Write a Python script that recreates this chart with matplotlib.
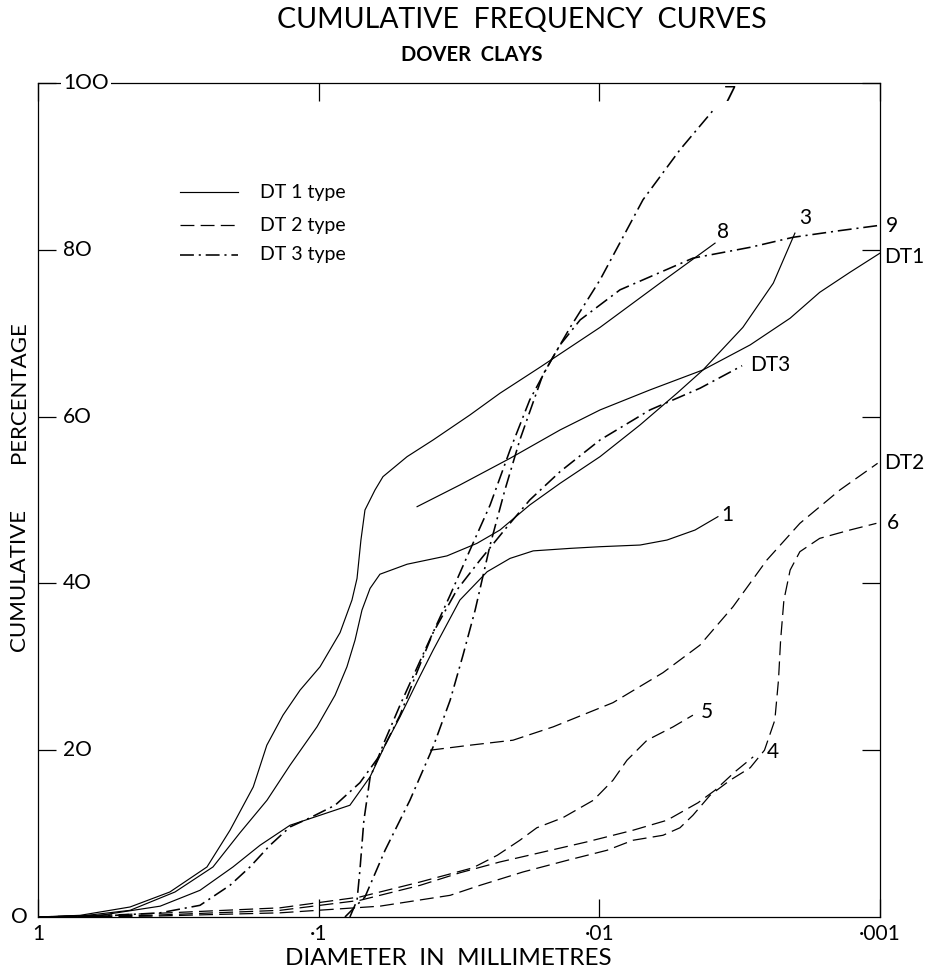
import matplotlib
matplotlib.use("Agg")
import matplotlib.pyplot as plt
import matplotlib.transforms as mtransforms
from matplotlib.ticker import NullLocator

plt.rcParams['font.family'] = ['Lato', 'DejaVu Sans']
plt.rcParams['lines.scale_dashes'] = False

# ---------------- data (diameter in mm, cumulative %) ----------------
x_tick_values = [1, 0.1, 0.01, 0.001]
x_tick_labels = ['1', '\u00b71', '\u00b701', '\u00b7001']
y_tick_values = [20, 40, 60, 80, 100]
y_tick_labels = ['2O', '4O', '6O', '8O', '1OO']

curve8_d = [1, 0.708, 0.470, 0.339, 0.250, 0.207, 0.171, 0.153, 0.134, 0.1165, 0.0989, 0.0839,
            0.0761, 0.0730, 0.0707, 0.0684, 0.0630, 0.0590, 0.0484, 0.0391, 0.0289, 0.0226,
            0.0163, 0.00994, 0.00608, 0.00387]
curve8_p = [0, 0.2, 1.2, 3.0, 6.0, 10.4, 15.6, 20.6, 24.2, 27.2, 30.0, 34.1, 38.0, 40.6, 45.2,
            48.8, 51.2, 52.8, 55.2, 57.2, 60.2, 62.8, 65.9, 70.7, 76.0, 80.8]

curve3_d = [1, 0.708, 0.470, 0.325, 0.238, 0.1907, 0.1528, 0.1265, 0.1014, 0.0874, 0.0793, 0.0742,
            0.0701, 0.0656, 0.0605, 0.0484, 0.0349, 0.0273, 0.0226, 0.0177, 0.0138, 0.00994,
            0.00716, 0.00529, 0.00427, 0.00308, 0.00240, 0.00201]
curve3_p = [0, 0.1, 0.8, 3.0, 6.0, 10.1, 14.0, 18.2, 22.8, 26.6, 30.0, 33.2, 36.8, 39.4, 41.1,
            42.3, 43.3, 44.8, 46.4, 49.4, 52.0, 55.2, 59.0, 62.8, 65.6, 70.7, 76.0, 82.0]

curve1_d = [1, 0.601, 0.367, 0.2648, 0.202, 0.1618, 0.1265, 0.0989, 0.0774, 0.0656, 0.0580, 0.0513,
            0.0446, 0.0391, 0.0314, 0.0251, 0.0208, 0.0172, 0.0127, 0.00994, 0.00716, 0.00574,
            0.00456, 0.00378]
curve1_p = [0, 0.2, 1.3, 3.2, 6.0, 8.6, 11.0, 12.2, 13.4, 16.8, 20.6, 24.0, 28.2, 32.0, 38.0,
            41.4, 43.0, 43.9, 44.2, 44.4, 44.6, 45.2, 46.4, 48.0]

dt1_d = [0.0446, 0.0314, 0.0208, 0.0138, 0.00994, 0.00660, 0.00427, 0.00290, 0.00209, 0.00164,
         0.00128, 0.001]
dt1_p = [49.2, 51.8, 55.0, 58.4, 60.8, 63.2, 65.6, 68.6, 71.8, 74.9, 77.3, 79.6]

dt3_d = [1, 0.601, 0.367, 0.2648, 0.207, 0.1757, 0.1491, 0.1265, 0.1073, 0.0874, 0.0713, 0.0605,
         0.0513, 0.0446, 0.0391, 0.0322, 0.0266, 0.0213, 0.0177, 0.0138, 0.00994, 0.00660,
         0.00438, 0.00310]
dt3_p = [0, 0.1, 0.5, 1.4, 3.8, 6.0, 8.6, 10.8, 11.9, 13.4, 16.1, 19.4, 24.2, 29.4, 34.1, 39.2,
         42.8, 46.8, 50.0, 53.4, 57.2, 60.8, 63.4, 66.1]

curve9_d = [0.0806, 0.0684, 0.0580, 0.0473, 0.0391, 0.0340, 0.0306, 0.0277, 0.0245, 0.0217,
            0.0192, 0.0159, 0.0138, 0.0117, 0.00844, 0.00464, 0.00290, 0.00204, 0.00139, 0.00102]
curve9_p = [0, 2.4, 8.0, 14.0, 20.4, 26.0, 31.4, 36.8, 44.6, 51.2, 57.2, 65.0, 68.6, 71.6, 75.2,
            79.0, 80.3, 81.5, 82.3, 82.9]

curve7_d = [0.0774, 0.0730, 0.0713, 0.0690, 0.0656, 0.0580, 0.0513, 0.0418, 0.0340, 0.0289,
            0.0245, 0.0208, 0.0177, 0.0150, 0.0127, 0.00994, 0.00699, 0.00516, 0.00387]
curve7_p = [0, 2.0, 5.6, 11.6, 16.7, 21.2, 25.4, 32.0, 38.6, 44.0, 49.4, 56.0, 62.0, 66.5, 70.7,
            76.4, 86.0, 92.0, 97.0]

dt2_d = [0.0401, 0.0289, 0.0203, 0.0146, 0.00894, 0.00593, 0.00438, 0.00334, 0.00253, 0.00193,
         0.00139, 0.00102]
dt2_p = [20.0, 20.6, 21.2, 22.8, 25.7, 29.3, 32.6, 37.2, 42.8, 47.2, 51.2, 54.4]

curve6_d = [1, 0.399, 0.1373, 0.0605, 0.0340, 0.0266, 0.0187, 0.0130, 0.00939, 0.00759, 0.00593,
            0.00516, 0.00464, 0.00403, 0.00342, 0.00290, 0.00258, 0.00237, 0.00230, 0.00226,
            0.00220, 0.00209, 0.00193, 0.00164, 0.00128, 0.00103]
curve6_p = [0, 0.1, 0.5, 1.3, 2.6, 3.8, 5.4, 6.8, 8.0, 9.2, 9.8, 10.7, 12.2, 14.6, 16.4, 17.9,
            20.0, 23.6, 28.4, 33.2, 38.0, 41.6, 43.8, 45.4, 46.4, 47.2]

curve4_d = [1, 0.399, 0.1373, 0.0713, 0.0435, 0.0314, 0.0226, 0.0163, 0.0111, 0.00759, 0.00574,
            0.00445, 0.00387, 0.00329, 0.00283]
curve4_p = [0, 0.2, 0.8, 2.0, 3.8, 5.3, 6.6, 7.7, 9.0, 10.4, 11.6, 13.7, 15.2, 17.4, 19.2]

curve5_d = [1, 0.399, 0.1373, 0.0713, 0.0435, 0.0282, 0.0231, 0.0192, 0.0167, 0.0135, 0.0105,
            0.00894, 0.00797, 0.00676, 0.00546, 0.00464]
curve5_p = [0, 0.4, 1.1, 2.4, 4.2, 5.9, 7.4, 9.2, 10.7, 11.9, 14.0, 16.4, 18.8, 21.2, 22.8, 24.2]

legend_labels = ['DT 1 type', 'DT 2 type', 'DT 3 type']

# curve end labels: (text, diameter, percent, ha)
curve_labels = [
    ('7', 0.00342, 98.6, 'center'),
    ('8', 0.00363, 82.1, 'center'),
    ('3', 0.00185, 83.8, 'center'),
    ('9', 0.000906, 82.9, 'center'),
    ('DT1', 0.000968, 79.1, 'left'),
    ('DT3', 0.00290, 66.2, 'left'),
    ('DT2', 0.000968, 54.4, 'left'),
    ('6', 0.000899, 47.3, 'center'),
    ('1', 0.00350, 48.2, 'center'),
    ('5', 0.00413, 24.6, 'center'),
    ('4', 0.00240, 19.8, 'center'),
]

# ---------------- styles ----------------
W, H = 940, 972
SOLID = dict(color='black', lw=0.85, linestyle='-')
DASHED = dict(color='black', lw=0.9, linestyle=(0, (10, 4.5)))
DASHDOT = dict(color='black', lw=1.15, linestyle=(0, (10, 3.5, 1.5, 3.5)))
TXT = dict(color='black', fontweight='normal')


def fx(x):
    return x / W


def fy(y):
    return 1 - y / H


fig = plt.figure(figsize=(W / 100, H / 100), dpi=100)
ax = fig.add_axes([fx(38), fy(917), (880 - 38) / W, (917 - 83) / H])
ax.set_xscale('log')
ax.set_xlim(1, 0.001)
ax.set_ylim(0, 100)

for s in ax.spines.values():
    s.set_linewidth(0.9)

ax.set_xticks(x_tick_values)
ax.set_xticklabels(x_tick_labels, fontsize=15, **TXT)
ax.xaxis.set_minor_locator(NullLocator())
ax.tick_params(axis='x', which='major', direction='in', length=13, width=0.9,
               top=True, bottom=True, pad=5)

ax.set_yticks(y_tick_values)
ax.set_yticklabels([])
ax.yaxis.set_minor_locator(NullLocator())
ax.tick_params(axis='y', which='major', direction='in', length=13, width=0.9,
               left=True, right=True)

# curves
ax.plot(curve8_d, curve8_p, **SOLID)
ax.plot(curve3_d, curve3_p, **SOLID)
ax.plot(curve1_d, curve1_p, **SOLID)
ax.plot(dt1_d, dt1_p, **SOLID)
ax.plot(dt2_d, dt2_p, **DASHED)
ax.plot(curve6_d, curve6_p, **DASHED)
ax.plot(curve4_d, curve4_p, **DASHED)
ax.plot(curve5_d, curve5_p, **DASHED)
ax.plot(dt3_d, dt3_p, **DASHDOT)
ax.plot(curve9_d, curve9_p, **DASHDOT)
ax.plot(curve7_d, curve7_p, **DASHDOT)

# y tick labels inside the frame
bt = mtransforms.blended_transform_factory(ax.transAxes, ax.transData)
for v, lab in zip(y_tick_values, y_tick_labels):
    kw = {}
    if v == 100:
        kw['bbox'] = dict(facecolor='white', edgecolor='none', pad=1.5)
    ax.text(0.030, v, lab, transform=bt, ha='left', va='center', fontsize=15, **TXT, **kw)
ax.text(-0.012, 0, 'O', transform=bt, ha='right', va='center', fontsize=15,
        clip_on=False, **TXT)

# legend (manual)
leg_y = [0.8693, 0.8297, 0.7938]
leg_styles = [SOLID, DASHED, DASHDOT]
for yy, st, lab in zip(leg_y, leg_styles, legend_labels):
    ax.plot([0.1686, 0.2375], [yy, yy], transform=ax.transAxes, **st)
    ax.text(0.2637, yy, lab, transform=ax.transAxes, ha='left', va='center',
            fontsize=14, **TXT)

# curve labels
for lab, d, p, ha in curve_labels:
    ax.text(d, p, lab, ha=ha, va='center', fontsize=15, clip_on=False, **TXT)

# titles & axis words
fig.text(fx(522), fy(20), 'CUMULATIVE  FREQUENCY  CURVES', ha='center', va='center',
         fontsize=20.5, **TXT)
fig.text(fx(472), fy(55), 'DOVER  CLAYS', ha='center', va='center', fontsize=14.5,
         color='black', fontweight='bold')
fig.text(fx(448), fy(958), 'DIAMETER  IN  MILLIMETRES', ha='center', va='center',
         fontsize=17.5, **TXT)
fig.text(fx(19), fy(392), 'PERCENTAGE', ha='center', va='center', rotation=90,
         fontsize=16, **TXT)
fig.text(fx(19), fy(580), 'CUMULATIVE', ha='center', va='center', rotation=90,
         fontsize=16, **TXT)

fig.savefig('out.png', dpi=100, facecolor='white')
